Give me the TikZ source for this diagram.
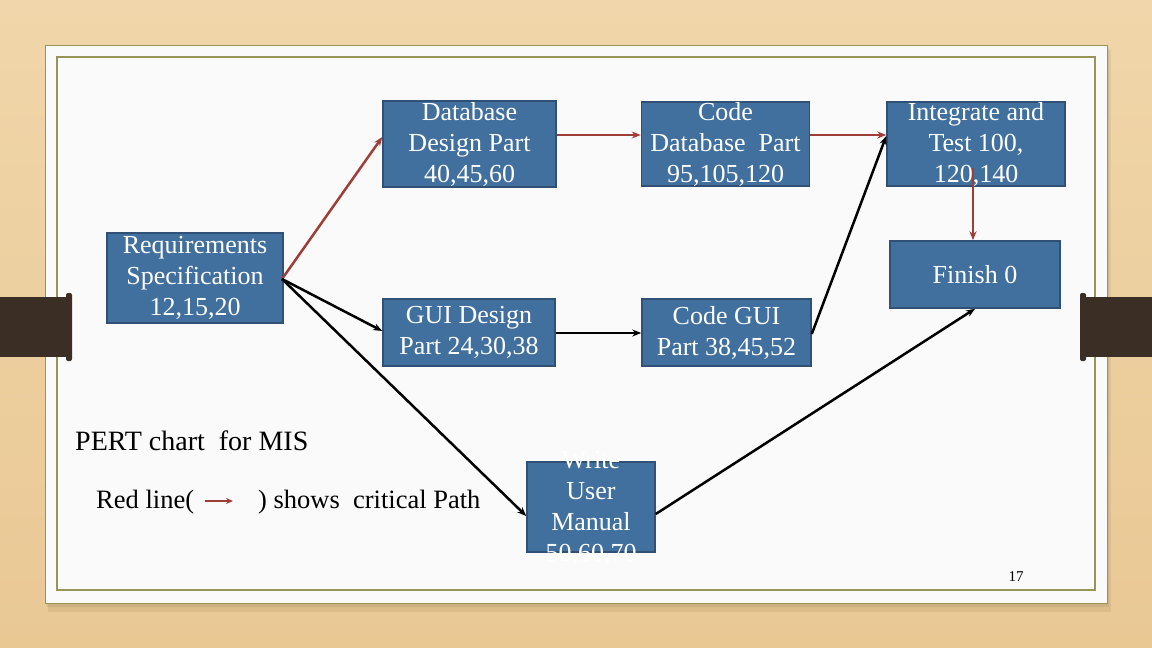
\documentclass[tikz,border=0pt]{standalone}
\usepackage{fontspec}
\setmainfont{Liberation Serif}
\usetikzlibrary{arrows.meta}
\definecolor{woodbg}{RGB}{233,200,148}
\definecolor{woodlight}{RGB}{240,214,170}
\definecolor{panel}{RGB}{250,250,250}
\definecolor{olive}{RGB}{150,150,90}
\definecolor{barbrown}{RGB}{58,46,37}
\definecolor{boxfill}{RGB}{66,112,158}
\definecolor{boxline}{RGB}{48,80,118}
\definecolor{critred}{RGB}{158,62,56}
\tikzset{
  task/.style={draw=boxline, fill=boxfill, line width=1.5pt, rectangle, inner sep=0pt},
  tasktext/.style={text=white, align=center, inner sep=0pt, font=\fontsize{26}{31}\selectfont},
  plain/.style={text=black, inner sep=0pt, font=\fontsize{28}{33}\selectfont},
  plainsm/.style={text=black, inner sep=0pt, font=\fontsize{26.5}{31}\selectfont},
  crit/.style={draw=critred, line width=2.5pt, -{Stealth[length=9pt,width=7pt]}},
  norm/.style={draw=black, line width=2.5pt, -{Stealth[length=9pt,width=7pt]}}
}
\begin{document}
\begin{tikzpicture}[x=1pt,y=-1pt]
\useasboundingbox (0,0) rectangle (1152,648);
% background
\fill[top color=woodlight, bottom color=woodbg] (0,0) rectangle (1152,648);
% shadow
\fill[black, opacity=0.06] (48,50) rectangle (1111,612);
\fill[black, opacity=0.06] (47,48) rectangle (1109,607);
% panel
\fill[panel] (45,45) rectangle (1107,603);
\draw[olive, line width=0.8pt] (45,45) rectangle (1107,603);
\draw[olive, line width=1.2pt] (57,57) rectangle (1095,590);
% side bars
\fill[barbrown] (0,297) rectangle (70,357);
\fill[barbrown, rounded corners=2pt] (66,293) rectangle (72,361);
\fill[barbrown] (1081,297) rectangle (1152,357);
\fill[barbrown, rounded corners=2pt] (1080,293) rectangle (1086,361);

% task boxes
\node[task, minimum width=176pt, minimum height=90pt] (req) at (195,278) {};
\node[tasktext] (reqt) at (req.center) {Requirements\\Specification\\12,15,20};

\node[task, minimum width=173pt, minimum height=86pt] (dbd) at (469.5,144) {};
\node[tasktext] (dbdt) at (dbd.center) {Database\\Design Part\\40,45,60};

\node[task, minimum width=168pt, minimum height=84pt] (cdb) at (725.5,144) {};
\node[tasktext] (cdbt) at (cdb.center) {Code\\Database\ \ Part\\95,105,120};

\node[task, minimum width=178pt, minimum height=84pt] (int) at (976,144) {};
\node[tasktext] (intt) at (int.center) {Integrate and\\Test 100,\\120,140};

\node[task, minimum width=170pt, minimum height=67pt] (fin) at (975,274.5) {};
\node[tasktext] (fint) at (fin.center) {Finish 0};

\node[task, minimum width=172pt, minimum height=67pt] (gui) at (469,332.5) {};
\node[tasktext] (guit) at (gui.center) {GUI Design\\Part 24,30,38};

\node[task, minimum width=169pt, minimum height=67pt] (cgui) at (726.5,332.5) {};
\node[tasktext] (cguit) at (cgui.center) {Code GUI\\Part 38,45,52};

\node[task, minimum width=128pt, minimum height=90pt] (wum) at (591,507) {};
\node[tasktext] (wumt) at (591,508.5) {Write\\User\\Manual\\50,60,70};

% connectors
\coordinate (reqout) at (282,279);
\draw[crit] (reqout) -- (dbd.west |- 0,137);
\draw[norm] (reqout) -- (gui.west |- 0,331);
\draw[norm] (reqout) -- (wum.west |- 0,516);
\draw[crit] (dbd.east |- 0,135) -- (cdb.west |- 0,135);
\draw[norm] (gui.east |- 0,333) -- (cgui.west |- 0,333);
\draw[crit] (cdb.east |- 0,135) -- (int.west |- 0,135);
\draw[norm] (cgui.east |- 0,334) -- (int.west |- 0,136);
\draw[crit] ([yshift=19pt]int.south -| 973,0) -- (fin.north -| 973,0);
\draw[norm] (wum.east |- 0,514) -- (fin.south -| 975,0);

% legend text
\node[plain, anchor=west] (title) at (75,441) {PERT chart\ \ for MIS};
\node[plainsm, anchor=west] (leg1) at (96,502) {Red line(};
\coordinate (legA) at (205,501);
\coordinate (legB) at (233,501);
\draw[draw=critred, line width=2.4pt, -{Stealth[length=7pt,width=6pt]}] (legA) -- (legB);
\node[plainsm, anchor=west] (leg2) at (258,502) {) shows\ \ critical Path};
\node[text=black, inner sep=0pt, font=\fontsize{15}{17}\selectfont] (pg) at (1016,577) {17};
\end{tikzpicture}
\end{document}
